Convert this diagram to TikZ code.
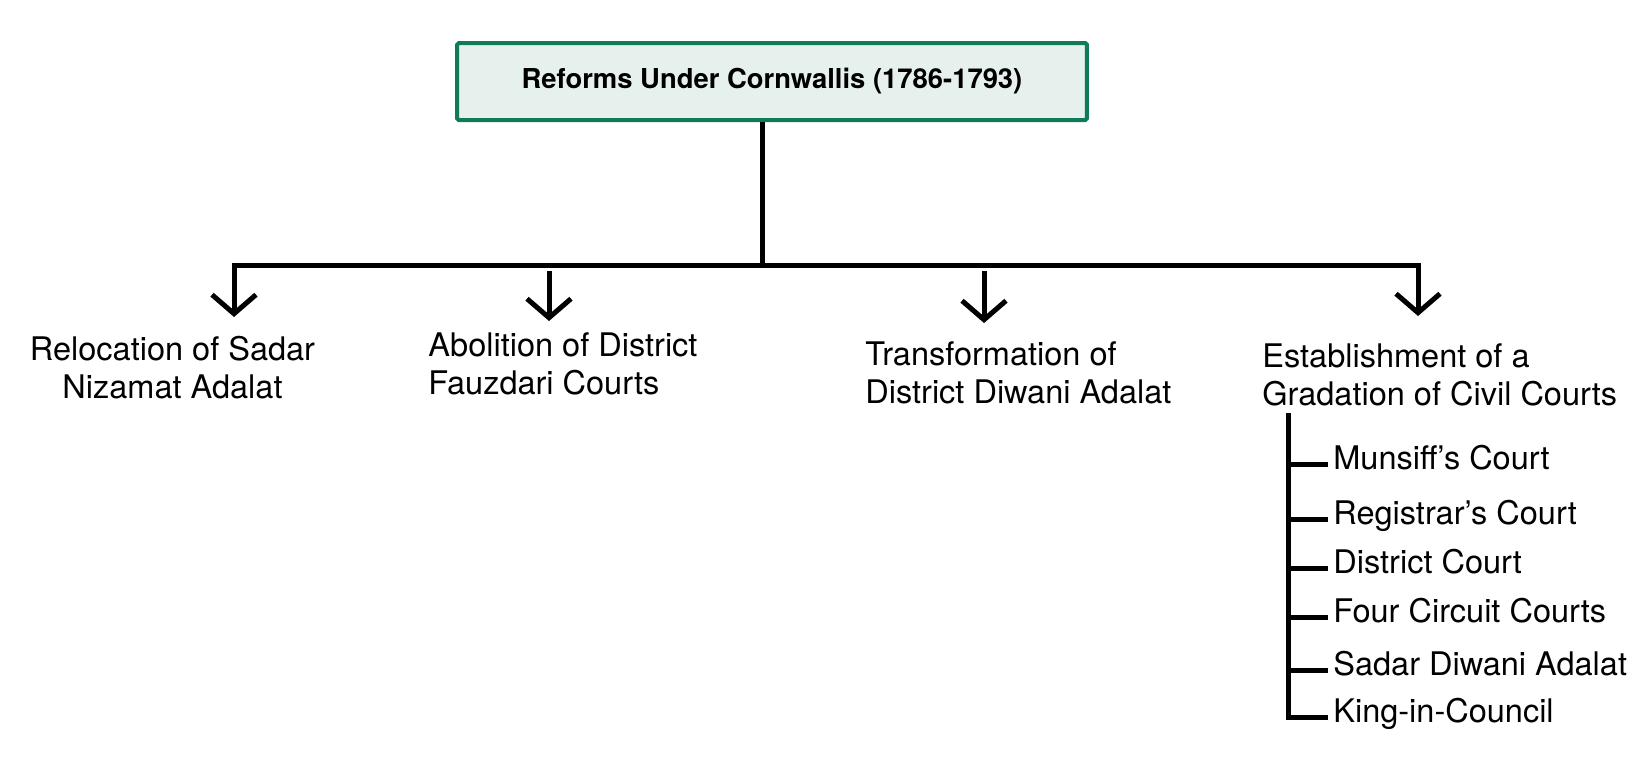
\documentclass[tikz,border=0pt]{standalone}
\usepackage{fontspec}
\setmainfont{TeX Gyre Heros}
\usetikzlibrary{arrows.meta}
\definecolor{boxgreen}{RGB}{16,122,90}
\definecolor{boxfill}{RGB}{230,241,238}
\begin{document}
\begin{tikzpicture}[x=0.02cm,y=-0.02cm,
    line/.style={line width=0.1cm},
    barb/.tip={Straight Barb[length=0.38cm,width=0.88cm]},
    arr/.style={line,-barb},
    txt/.style={inner sep=0pt,font=\fontsize{18.5}{21.6}\selectfont},
    court/.style={txt,inner xsep=0.1cm,anchor=base west}]
    \useasboundingbox (0,0) rectangle (1639,772);
    \node[draw=boxgreen,fill=boxfill,line width=0.08cm,rounded corners=1pt,minimum width=12.6cm,minimum height=1.54cm,
        font=\bfseries\fontsize{15.6}{18}\selectfont] (title) at (772,81.5) {Reforms Under Cornwallis (1786-1793)};
	\node[txt,align=center,anchor=north] (t1) at (172.5,336) {Relocation of Sadar\\Nizamat Adalat};
	\node[txt,align=left,anchor=north west] (t2) at (428,332) {Abolition of District\\Fauzdari Courts};
	\node[txt,align=left,anchor=north west] (t3) at (865,341) {Transformation of\\District Diwani Adalat};
	\node[txt,align=left,anchor=north west] (t4) at (1262,343) {Establishment of a\\Gradation of Civil Courts};
	\coordinate (stem) at (762,265);
	\coordinate (a1) at (234,265); \coordinate (e1) at (234,317);
	\coordinate (a2) at (549,271); \coordinate (e2) at (549,321);
	\coordinate (a3) at (984,271); \coordinate (e3) at (984,323);
	\coordinate (a4) at (1418,265); \coordinate (e4) at (1418,316);
	\draw[line] (title.south -| stem) -- (stem);
	\draw[line,barb-barb] (e1) -- (a1) -- (a4) -- (e4);
	\draw[arr] (a2) -- (e2);
	\draw[arr] (a3) -- (e3);
	% grades of civil courts
	\node[court] (k1) at (1328,469) {Munsiff’s Court};
	\node[court] (k2) at (1328,524) {Registrar’s Court};
	\node[court] (k3) at (1328,573) {District Court};
	\node[court] (k4) at (1328,622) {Four Circuit Courts};
	\node[court] (k5) at (1328,675) {Sadar Diwani Adalat};
	\node[court] (k6) at (1328,722) {King-in-Council};
	\coordinate (trunk) at (1288,413);
	\draw[line] (trunk) |- (k6.mid west);
	\foreach \n in {1,...,5}
		\draw[line] (k\n.mid west -| trunk) -- (k\n.mid west);
\end{tikzpicture}
\end{document}
